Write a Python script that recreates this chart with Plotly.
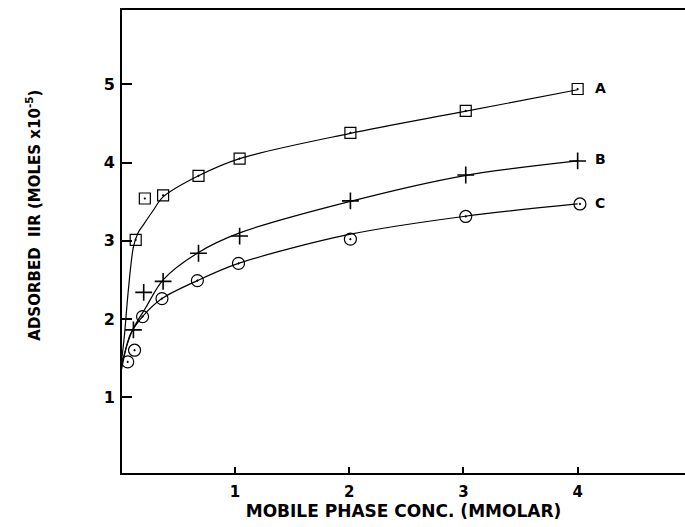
import plotly.graph_objects as go

# ---- data ----
xA = [0.13, 0.21, 0.37, 0.68, 1.04, 2.01, 3.02, 4.00]
yA = [3.01, 3.54, 3.58, 3.83, 4.05, 4.38, 4.66, 4.94]
xB = [0.11, 0.20, 0.37, 0.68, 1.04, 2.01, 3.02, 4.00]
yB = [1.86, 2.34, 2.48, 2.84, 3.06, 3.51, 3.84, 4.02]
xC = [0.06, 0.12, 0.19, 0.36, 0.67, 1.03, 2.01, 3.02, 4.02]
yC = [1.45, 1.60, 2.03, 2.26, 2.49, 2.71, 3.02, 3.31, 3.47]

# fitted curves as traced in the picture
fitA_x = [0.005, 0.03, 0.065, 0.11, 0.15, 0.20, 0.28, 0.37, 0.68, 1.04, 2.0, 3.0, 4.0]
fitA_y = [1.45, 1.77, 2.36, 2.92, 3.10, 3.21, 3.38, 3.56, 3.83, 4.05, 4.37, 4.65, 4.93]
fitB_x = [0.005, 0.05, 0.11, 0.22, 0.37, 0.68, 1.04, 2.0, 3.0, 4.0]
fitB_y = [1.40, 1.65, 1.88, 2.15, 2.50, 2.85, 3.10, 3.50, 3.83, 4.02]
fitC_x = [0.005, 0.055, 0.085, 0.19, 0.36, 0.67, 1.03, 2.0, 3.0, 4.0]
fitC_y = [1.35, 1.68, 1.81, 2.03, 2.26, 2.49, 2.71, 3.08, 3.31, 3.47]

series_labels = ["A", "B", "C"]
label_x = [4.2, 4.2, 4.2]
label_y = [4.95, 4.04, 3.48]

x_ticks = [1, 2, 3, 4]
y_ticks = [1, 2, 3, 4, 5]

FONT = "DejaVu Sans, Liberation Sans, Arial, sans-serif"

fig = go.Figure()

for fx, fy in [(fitA_x, fitA_y), (fitB_x, fitB_y), (fitC_x, fitC_y)]:
    fig.add_trace(go.Scatter(x=fx, y=fy, mode="lines",
                             line=dict(color="black", width=1.2, shape="spline", smoothing=0.9),
                             hoverinfo="skip", showlegend=False))

fig.add_trace(go.Scatter(x=xA, y=yA, mode="markers",
                         marker=dict(symbol="square-open-dot", size=11, color="black",
                                     line=dict(color="black", width=1.2)), showlegend=False))
fig.add_trace(go.Scatter(x=xB, y=yB, mode="markers",
                         marker=dict(symbol="cross-thin-open", size=12, color="black",
                                     line=dict(color="black", width=1.6)), showlegend=False))
fig.add_trace(go.Scatter(x=xC, y=yC, mode="markers",
                         marker=dict(symbol="circle-open-dot", size=12, color="black",
                                     line=dict(color="black", width=1.2)), showlegend=False))

for t, lx, ly in zip(series_labels, label_x, label_y):
    fig.add_annotation(x=lx, y=ly, text=t, showarrow=False, xanchor="center", yanchor="middle",
                       font=dict(family=FONT, size=14, color="black", weight="bold"))

fig.add_annotation(xref="paper", yref="paper", x=-0.157, y=0.557,
                   text="ADSORBED  IIR (MOLES x10<sup>-5</sup>)", textangle=-90,
                   showarrow=False, xanchor="center", yanchor="middle",
                   font=dict(family=FONT, size=15, color="black", weight="bold"))

fig.update_layout(
    width=685, height=527,
    margin=dict(l=122, r=0, t=10, b=54),
    paper_bgcolor="white", plot_bgcolor="white",
    font=dict(family=FONT, color="black"),
    xaxis=dict(range=[0.01, 4.94], tickvals=x_ticks, ticks="inside", ticklen=6, tickwidth=1.5,
               tickcolor="black", showline=True, linecolor="black", linewidth=2, mirror=True,
               showgrid=False, zeroline=False, ticklabelstandoff=4,
               tickfont=dict(family=FONT, size=15, color="black", weight="bold"),
               title=dict(text="MOBILE PHASE CONC. (MMOLAR)", standoff=5,
                          font=dict(family=FONT, size=17, color="black", weight="bold"))),
    yaxis=dict(range=[0.03, 5.95], tickvals=y_ticks, ticks="inside", ticklen=10, tickwidth=1.5,
               tickcolor="black", showline=True, linecolor="black", linewidth=2, mirror=False,
               showgrid=False, zeroline=False, ticklabelstandoff=2,
               tickfont=dict(family=FONT, size=16, color="black", weight="bold")),
)

fig.write_html("out.html")
